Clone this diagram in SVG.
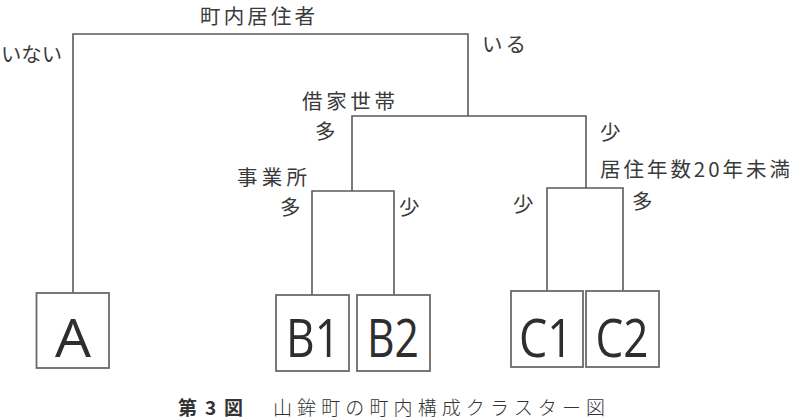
<svg xmlns="http://www.w3.org/2000/svg" width="794" height="420" viewBox="0 0 794 420">
<style>
.ln{fill:none;stroke:#5a5a5a;stroke-width:1.6}
.bx{fill:#fff;stroke:#6a6a6a;stroke-width:1.8}
.lb{font-family:"Noto Sans CJK JP","Noto Sans",sans-serif;font-size:20.5px;fill:#3a3a3a}
.nd{font-family:"Open Sans","Noto Sans",sans-serif;font-size:53px;fill:#2e2e2e;text-anchor:middle}
.cap{font-family:"Noto Sans CJK JP",sans-serif;font-size:19px;fill:#333}
</style>
<rect width="794" height="420" fill="#fff"/>
<g id="connectors">
<polyline class="ln" points="73,293 73,34 468,34 468,116"/>
<polyline class="ln" points="352,191 352,116 586,116 586,188"/>
<polyline class="ln" points="312,295 312,191 394,191 394,295"/>
<polyline class="ln" points="547,291 547,188 623,188 623,291"/>
</g>
<g id="labels">
<text class="lb" x="200" y="24" textLength="115" lengthAdjust="spacing">町内居住者</text>
<text class="lb" x="1" y="62" textLength="61" lengthAdjust="spacingAndGlyphs">いない</text>
<text class="lb" x="482" y="52" textLength="44" lengthAdjust="spacing">いる</text>
<text class="lb" x="302" y="109" textLength="93" lengthAdjust="spacing">借家世帯</text>
<text class="lb" x="315" y="139">多</text>
<text class="lb" x="600" y="140">少</text>
<text class="lb" x="600" y="177" textLength="190" lengthAdjust="spacing">居住年数20年未満</text>
<text class="lb" x="237" y="185" textLength="70" lengthAdjust="spacing">事業所</text>
<text class="lb" x="280" y="215">多</text>
<text class="lb" x="399" y="215">少</text>
<text class="lb" x="513" y="212">少</text>
<text class="lb" x="632" y="209">多</text>
</g>
<g id="node-A">
<rect class="bx" x="36.5" y="293" width="72.5" height="75"/>
<text class="nd" x="73" y="357" textLength="36" lengthAdjust="spacingAndGlyphs">A</text>
</g>
<g id="node-B1">
<rect class="bx" x="276" y="295" width="73" height="76"/>
<text class="nd" x="313" y="357" textLength="54" lengthAdjust="spacingAndGlyphs">B1</text>
</g>
<g id="node-B2">
<rect class="bx" x="357" y="295" width="73" height="76"/>
<text class="nd" x="393" y="357" textLength="52" lengthAdjust="spacingAndGlyphs">B2</text>
</g>
<g id="node-C1">
<rect class="bx" x="511" y="291" width="72" height="76"/>
<text class="nd" x="546" y="357" textLength="54" lengthAdjust="spacingAndGlyphs">C1</text>
</g>
<g id="node-C2">
<rect class="bx" x="586" y="291" width="73" height="76"/>
<text class="nd" x="622" y="357" textLength="53" lengthAdjust="spacingAndGlyphs">C2</text>
</g>
<g id="caption">
<text class="cap" x="178" y="415" textLength="65" lengthAdjust="spacing" font-weight="bold">第3図</text>
<text class="cap" x="273" y="415" textLength="332" lengthAdjust="spacing" font-weight="300">山鉾町の町内構成クラスター図</text>
</g>
</svg>
